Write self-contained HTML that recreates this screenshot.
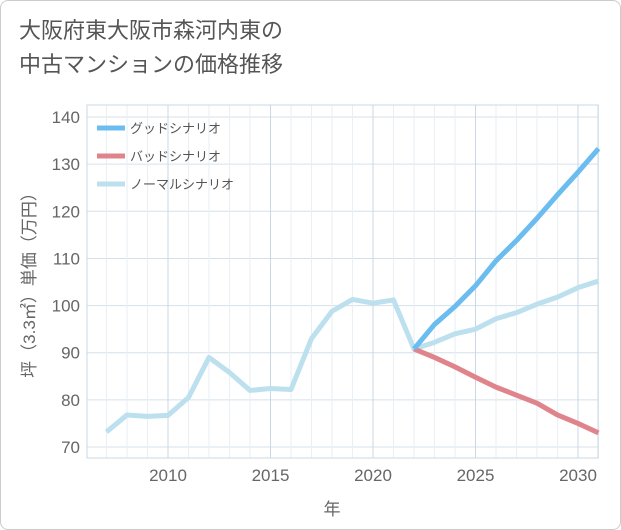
<!DOCTYPE html>
<html><head><meta charset="utf-8"><style>
body{margin:0;background:#fff;}
#wrap{position:relative;width:619px;height:528px;border:1px solid #ccc;border-radius:8px;overflow:hidden;background:#fff;font-family:"Liberation Sans","Noto Sans CJK JP",sans-serif;}
#title{position:absolute;left:18px;top:13px;font-size:22px;line-height:34px;color:#555;}
</style></head><body>
<div id="wrap">
<div id="title">大阪府東大阪市森河内東の<br>中古マンションの価格推移</div>
<svg id="chart" width="621" height="530" style="position:absolute;left:0;top:0"></svg>
</div>
<script>
const years=[2007,2008,2009,2010,2011,2012,2013,2014,2015,2016,2017,2018,2019,2020,2021,2022,2023,2024,2025,2026,2027,2028,2029,2030,2031];
const normalVals=[73.2,76.8,76.5,76.7,80.5,89,85.8,82,82.4,82.2,93,98.8,101.3,100.5,101.2,90.8,92.2,94,95,97.2,98.5,100.3,101.8,103.8,105.2];
const futureYears=[2022,2023,2024,2025,2026,2027,2028,2029,2030,2031];
const goodVals=[90.8,96,99.8,104.2,109.5,113.8,118.5,123.5,128.3,133.3];
const badVals=[90.8,89,87,84.8,82.7,81,79.3,76.8,75,73];
const yTicks=[70,80,90,100,110,120,130,140];
const xTicks=[2010,2015,2020,2025,2030];
const NS="http://www.w3.org/2000/svg";
const svg=document.getElementById('chart');
const L=86,R=597,T=104,B=457;
const x=v=>167+(v-2010)*20.5;
const y=v=>446-(v-70)*4.714;
function mk(t,a,p){const e=document.createElementNS(NS,t);for(const k in a)e.setAttribute(k,a[k]);(p||svg).appendChild(e);return e;}
for(const t of yTicks){const l=mk('line',{x1:L,x2:R,y1:y(t),y2:y(t),stroke:'#d5e1ea','stroke-width':1});


const tx=mk('text',{x:79,y:y(t)+6,'text-anchor':'end','font-size':17,fill:'#666'});tx.textContent=t;

}
for(let yr=2007;yr<=2031;yr++){const l=mk('line',{x1:x(yr),x2:x(yr),y1:T,y2:B,stroke:yr%5===0?'#c8d8e4':'#e8eff5','stroke-width':1});

}
for(const t of xTicks){const tx=mk('text',{x:x(t),y:480,'text-anchor':'middle','font-size':17,fill:'#666'});tx.textContent=t;

}
const fr=mk('rect',{x:L,y:T,width:R-L,height:B-T,fill:'none',stroke:'#c8d8e4'});


const xt=mk('text',{x:331,y:514,'text-anchor':'middle','font-size':17,fill:'#666'});xt.textContent='年';


const yt=mk('text',{x:0,y:0,'text-anchor':'middle','font-size':17,fill:'#666',transform:'translate(34,280) rotate(-90)'});yt.textContent='坪（3.3㎡）単価（万円）';


function line(xs,vs,c,name){const p=mk('polyline',{points:xs.map((v,i)=>x(v)+','+y(vs[i])).join(' '),fill:'none',stroke:c,'stroke-width':5,'stroke-linejoin':'round'});

}
line(years,normalVals,'#bde0ee','normal-scenario-line');
line(futureYears,badVals,'#e0848c','bad-scenario-line');
line(futureYears,goodVals,'#6bbcef','good-scenario-line');
const leg=[['グッドシナリオ','#6bbcef'],['バッドシナリオ','#e0848c'],['ノーマルシナリオ','#bde0ee']];
leg.forEach((d,i)=>{const g=mk('g',{});


mk('line',{x1:96,x2:124,y1:127+i*28,y2:127+i*28,stroke:d[1],'stroke-width':5},g);
const t=mk('text',{x:129,y:132+i*28,'font-size':13,fill:'#555'},g);t.textContent=d[0];});
</script>
</body></html>
